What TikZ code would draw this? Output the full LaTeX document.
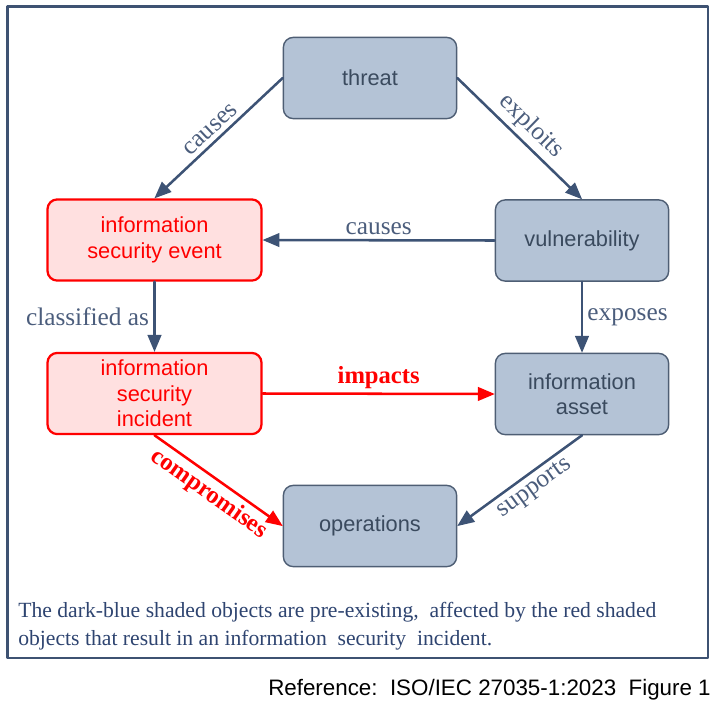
\documentclass[tikz,border=0pt]{standalone}
\usepackage{fontspec}
\setmainfont{Liberation Serif}
\newfontfamily\boxfont{Liberation Sans}
\usepackage{tikz}
\usetikzlibrary{arrows,positioning}
\definecolor{frameblue}{HTML}{3E5272}
\definecolor{boxfill}{HTML}{B4C3D6}
\definecolor{boxline}{HTML}{4E5E74}
\definecolor{boxtext}{HTML}{3A4A5E}
\definecolor{arrowblue}{HTML}{3D5375}
\definecolor{labelblue}{HTML}{4B5D7C}
\definecolor{redfill}{HTML}{FFE0E0}
\definecolor{captionblue}{HTML}{2E4470}

\begin{document}
\begin{tikzpicture}[line cap=round,line join=round,>=triangle 45,x=0.025cm,y=-0.025cm,
  bluebox/.style={draw=boxline,line width=1pt,fill=boxfill,rounded corners=7pt,text=boxtext,
    align=center,font=\boxfont\fontsize{15.5}{18}\selectfont,minimum width=4.33cm,minimum height=2.03cm,inner sep=2pt},
  redbox/.style={draw=red,line width=1.6pt,fill=redfill,rounded corners=7pt,text=red,
    align=center,font=\boxfont\fontsize{15.5}{18}\selectfont,minimum width=5.35cm,minimum height=2.03cm,inner sep=2pt},
  link/.style={draw=arrowblue,line width=1.8pt,->},
  redlink/.style={draw=red,line width=1.8pt,->},
  lbl/.style={text=labelblue,font=\fontsize{18}{20}\selectfont,inner sep=3pt},
  redlbl/.style={text=red,font=\fontsize{17.5}{20}\selectfont\bfseries,inner sep=3pt}]
\useasboundingbox (0,0) rectangle (728,711);
\draw[frameblue,line width=2.1pt] (7.5,6.5) rectangle (708,658);
\node[bluebox] (threat) at (370,78) {threat};
\node[redbox] (event) at (154.5,240) {information\\security event};
\node[bluebox] (vuln) at (582,240.5) {vulnerability};
\node[redbox] (incident) at (154.5,393.5) {information\\security\\incident};
\node[bluebox] (asset) at (582,394) {information\\asset};
\node[bluebox] (ops) at (370,526) {operations};
\draw[link] (threat.west) -- node[lbl,midway,sloped,above] {causes} (event.north);
\draw[link] (threat.east) -- node[lbl,midway,sloped,above] {exploits} (vuln.north);
\draw[link] (vuln.west) -- node[lbl,midway,above] {causes} (event.east);
\draw[link] (event.south) -- node[lbl,midway,left] {classified as} (incident.north);
\draw[link] (vuln.south) -- node[lbl,midway,right] {exposes} (asset.north);
\draw[redlink] (incident.east) -- node[redlbl,midway,above] {impacts} (asset.west);
\draw[redlink] (incident.south) -- node[redlbl,midway,sloped,below] {compromises} (ops.west);
\draw[link] (asset.south) -- node[lbl,pos=0.45,sloped,below] {supports} (ops.east);
\node[text=captionblue,font=\fontsize{15.4}{19.9}\selectfont,align=left,anchor=west,inner sep=0pt] (caption) at (18,626)
  {The dark-blue shaded objects are pre-existing,\ \ affected by the red shaded\\objects that result in an information\ \ security\ \ incident.};
\node[font=\boxfont\fontsize{15.9}{18}\selectfont,anchor=east,inner sep=0pt] (source) at (711,690)
  {Reference:\ \ ISO/IEC 27035-1:2023\ \ Figure 1};
\end{tikzpicture}
\end{document}
